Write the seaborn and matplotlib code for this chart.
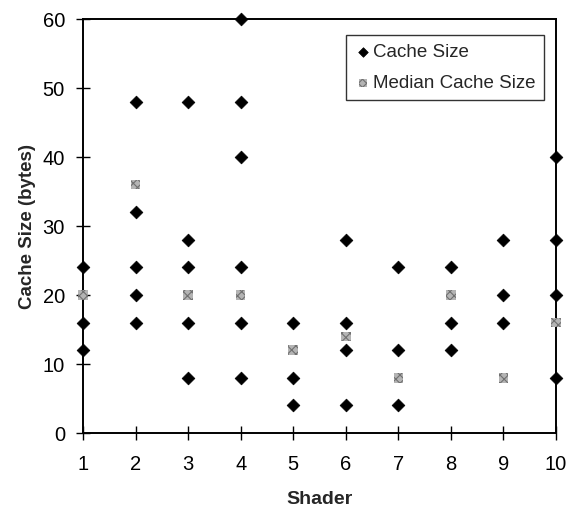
import pandas as pd
import matplotlib.pyplot as plt
import seaborn as sns

# cache size samples per shader
shaders = [1, 2, 3, 4, 5, 6, 7, 8, 9, 10]
cache_sizes = [
    [24, 16, 12],
    [48, 32, 24, 20, 16],
    [48, 28, 24, 16, 8],
    [60, 48, 40, 24, 16, 8],
    [16, 8, 4],
    [28, 16, 12, 4],
    [24, 12, 4],
    [24, 16, 12],
    [28, 20, 16],
    [40, 28, 20, 8],
]
median_sizes = [20, 36, 20, 20, 12, 14, 8, 20, 8, 16]

rows = []
for s, vals in zip(shaders, cache_sizes):
    for v in vals:
        rows.append({'Shader': s, 'Cache Size (bytes)': v})
size_df = pd.DataFrame(rows)
med_df = pd.DataFrame({'Shader': shaders, 'Cache Size (bytes)': median_sizes})

sns.set_theme(style='white')
plt.rcParams['font.family'] = ['Liberation Sans', 'DejaVu Sans']
plt.rcParams['hatch.linewidth'] = 0.8

fig = plt.figure(figsize=(5.69, 5.11), dpi=100)
ax = fig.add_axes([83/569, 1 - 433/511, 473/569, 414/511])

sns.scatterplot(ax=ax, data=size_df, x='Shader', y='Cache Size (bytes)',
                marker='D', s=42, color='black', edgecolor='black',
                label='Cache Size', clip_on=False, zorder=3)
sns.scatterplot(ax=ax, data=med_df, x='Shader', y='Cache Size (bytes)',
                marker='s', s=48, color='#b4b4b4', edgecolor='#707070',
                hatch='xxxx', linewidth=0, label='Median Cache Size',
                clip_on=False, zorder=4)

ax.set_xlim(1, 10)
ax.set_ylim(0, 60)
ax.set_xticks(shaders)
ax.set_yticks(range(0, 61, 10))
ax.tick_params(direction='inout', length=10, width=1, labelsize=14.5,
               color='black', labelcolor='black', bottom=True, left=True)
ax.tick_params(axis='x', pad=11)
ax.tick_params(axis='y', pad=8)
for sp in ax.spines.values():
    sp.set_color('black')
    sp.set_linewidth(1.4)
ax.set_xlabel('Shader', fontsize=14, fontweight='bold', labelpad=12)
ax.set_ylabel('Cache Size (bytes)', fontsize=13.5, fontweight='bold', labelpad=5)

leg = ax.legend(loc='upper right', bbox_to_anchor=(0.975, 0.961), frameon=True,
                fancybox=False, fontsize=13.5, handletextpad=0.1,
                borderpad=0.45, labelspacing=0.75, handlelength=0.9,
                borderaxespad=0, markerscale=0.75)
leg.get_frame().set_edgecolor('black')
leg.get_frame().set_linewidth(1.0)

fig.savefig('out.png', dpi=100)
